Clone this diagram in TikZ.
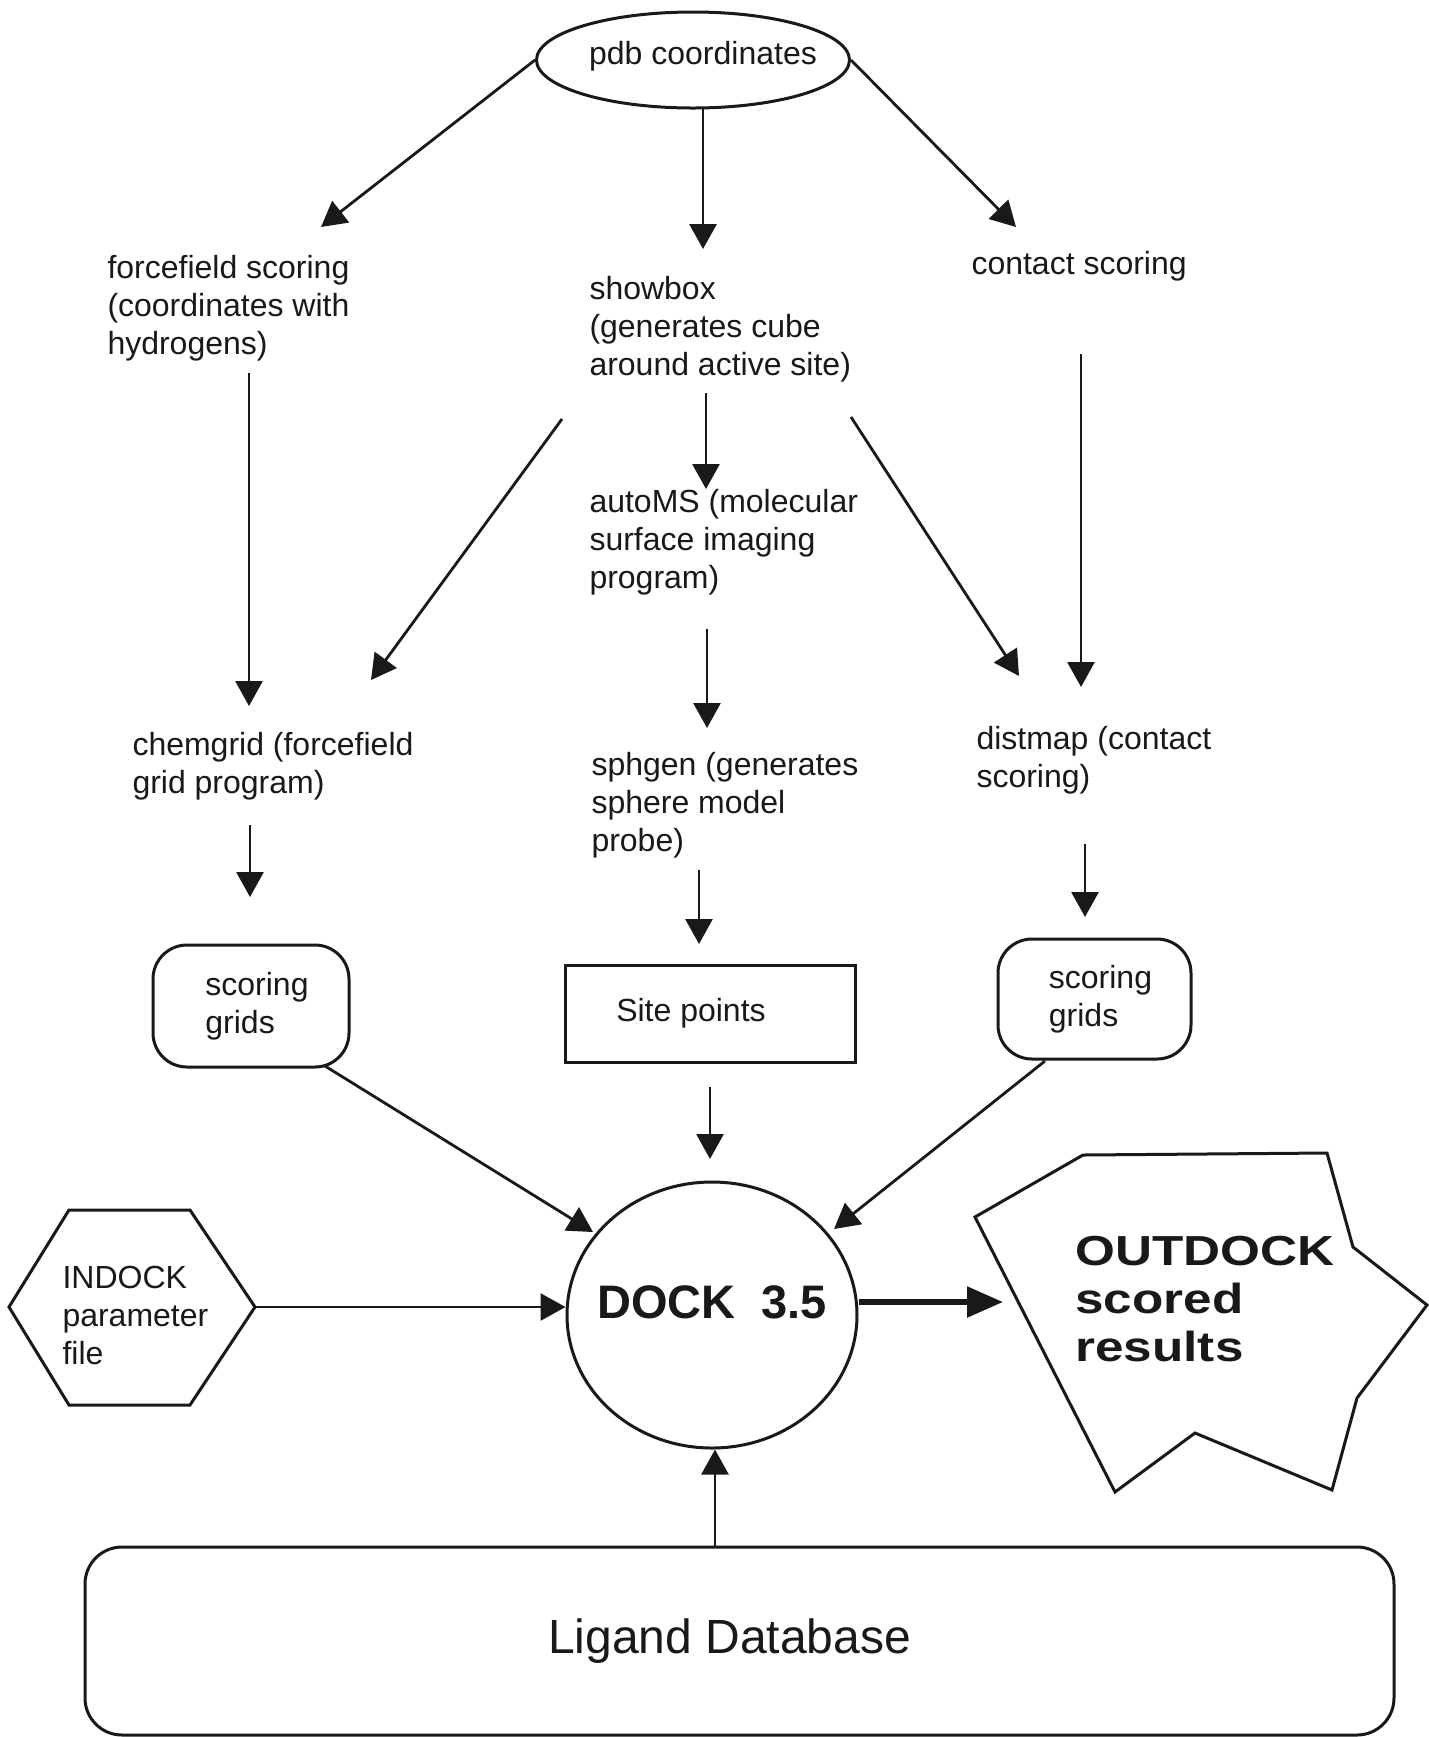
\documentclass[tikz,border=0pt]{standalone}
\usepackage{fontspec}
\setmainfont{Liberation Sans}
\newfontfamily\widebf[FakeStretch=1.22]{Liberation Sans}
\usetikzlibrary{arrows.meta,shapes.geometric}
\definecolor{ink}{RGB}{25,25,25}
\begin{document}
\begin{tikzpicture}[x=0.5pt,y=-0.5pt,line width=1.5pt,draw=ink,text=ink,
  lbl/.style={font=\fontsize{16}{19}\selectfont, align=left, anchor=west, inner sep=0pt},
  arr/.style={draw=ink,line width=1.4pt,-{Triangle[length=12.5pt,width=13.5pt]}},
  bigarr/.style={draw=ink,line width=2.8pt,-{Triangle[length=18pt,width=15pt]}},
  rbox/.style={draw, rounded corners=17pt, line width=1.5pt, align=left, inner sep=0pt,
     font=\fontsize{16}{19}\selectfont}]
\useasboundingbox (0,0) rectangle (1429,1737);
\fill[white] (0,0) rectangle (1429,1737);

% top ellipse
\node[ellipse, minimum width=156.5pt, minimum height=48pt, inner sep=0pt,
  label={[font=\fontsize{16}{19}\selectfont, xshift=5pt, yshift=2pt, text=ink]center:pdb coordinates}] (pdb) at (693,60) {};
\draw (pdb.center) ellipse [x radius=156.5, y radius=48];

% text blocks
\node[lbl] (ff) at (106,308) {forcefield scoring\\(coordinates with\\hydrogens)};
\node[lbl] (sb) at (588,329) {showbox\\(generates cube\\around active site)};
\node[lbl] (cs) at (970,266) {contact scoring};
\node[lbl] (ams) at (588,542) {autoMS (molecular\\surface imaging\\program)};
\node[lbl] (cg) at (131,766) {chemgrid (forcefield\\grid program)};
\node[lbl] (sg) at (590,805) {sphgen (generates\\sphere model\\probe)};
\node[lbl] (dm) at (975,760) {distmap (contact\\scoring)};

% boxes
\node[rbox, minimum width=98pt, minimum height=61pt] (gl) at (251,1006) {\hspace*{6pt}scoring\\\hspace*{6pt}grids};
\node[draw, line width=1.5pt, minimum width=145pt, minimum height=48.5pt, inner sep=0pt,
  font=\fontsize{16}{19}\selectfont] (sp) at (710,1013.5) {Site points\hspace*{19pt}};
\node[rbox, minimum width=96.5pt, minimum height=60pt] (gr) at (1094.5,999) {\hspace*{6pt}scoring\\\hspace*{6pt}grids};

% DOCK
\node[ellipse, draw, line width=1.5pt, minimum width=145pt, minimum height=133pt, inner sep=0pt,
  label={[font=\fontsize{23.5}{27}\selectfont\bfseries, yshift=6.5pt, text=ink]center:DOCK\ \ 3.5}] (dock) at (712,1315) {};

% INDOCK hexagon
\node[lbl] (ind) at (61,1315) {INDOCK\\parameter\\file};
\draw (9,1307) -- (69,1210) -- (190,1210) -- (255,1307) -- (190,1405) -- (69,1405) -- cycle;
\coordinate (indR) at (255,1307);

% OUTDOCK polygon
\draw (975,1217) -- (1083,1155) -- (1327,1153) -- (1353,1247) -- (1427,1305) -- (1357,1398)
  -- (1332,1490) -- (1195,1433) -- (1115,1492) -- cycle;
\node[font=\fontsize{21}{24}\selectfont\widebf\bfseries, align=left, anchor=west, inner sep=0pt]
  (out) at (1074,1299) {OUTDOCK\\scored\\results};
\coordinate (outL) at (1003,1302);

% Ligand database
\node[draw, line width=1.5pt, rounded corners=18.5pt, minimum width=654.5pt, minimum height=94pt,
  inner sep=0pt, font=\fontsize{24}{28}\selectfont] (lig) at (739.5,1641) {Ligand Database\hspace*{10pt}\raisebox{5pt}{}};

% arrow end points
\coordinate (a1) at (321,227);
\coordinate (a2s) at (703,108); \coordinate (a2) at (703,249);
\coordinate (a3) at (1016,227);
\coordinate (a4s) at (249,373); \coordinate (a4) at (249,706);
\coordinate (a5s) at (562,419); \coordinate (a5) at (371,680);
\coordinate (a6s) at (706,393); \coordinate (a6) at (706,489);
\coordinate (a7s) at (851,417); \coordinate (a7) at (1019,676);
\coordinate (a8s) at (1081,354); \coordinate (a8) at (1081,687);
\coordinate (a9s) at (707,629); \coordinate (a9) at (707,728);
\coordinate (a10s) at (250,825); \coordinate (a10) at (250,897);
\coordinate (a11s) at (699,870); \coordinate (a11) at (699,944);
\coordinate (a12s) at (1085,844); \coordinate (a12) at (1085,917);
\coordinate (a13s) at (325,1066); \coordinate (a13) at (593,1232);
\coordinate (a14s) at (710,1087); \coordinate (a14) at (710,1159);
\coordinate (a15s) at (1045,1061); \coordinate (a15) at (834,1229);
\coordinate (a18s) at (715,1547);

\draw[arr] (pdb.west) -- (a1);
\draw[arr] (a2s) -- (a2);
\draw[arr] (pdb.east) -- (a3);
\draw[arr] (a4s) -- (a4);
\draw[arr] (a5s) -- (a5);
\draw[arr] (a6s) -- (a6);
\draw[arr] (a7s) -- (a7);
\draw[arr] (a8s) -- (a8);
\draw[arr] (a9s) -- (a9);
\draw[arr] (a10s) -- (a10);
\draw[arr] (a11s) -- (a11);
\draw[arr] (a12s) -- (a12);
\draw[arr] (a13s) -- (a13);
\draw[arr] (a14s) -- (a14);
\draw[arr] (a15s) -- (a15);
\draw[arr] (indR) -- (dock.west |- indR);
\draw[bigarr] (dock.east |- outL) -- (outL);
\draw[arr] (a18s) -- (a18s |- dock.south);
\end{tikzpicture}
\end{document}
